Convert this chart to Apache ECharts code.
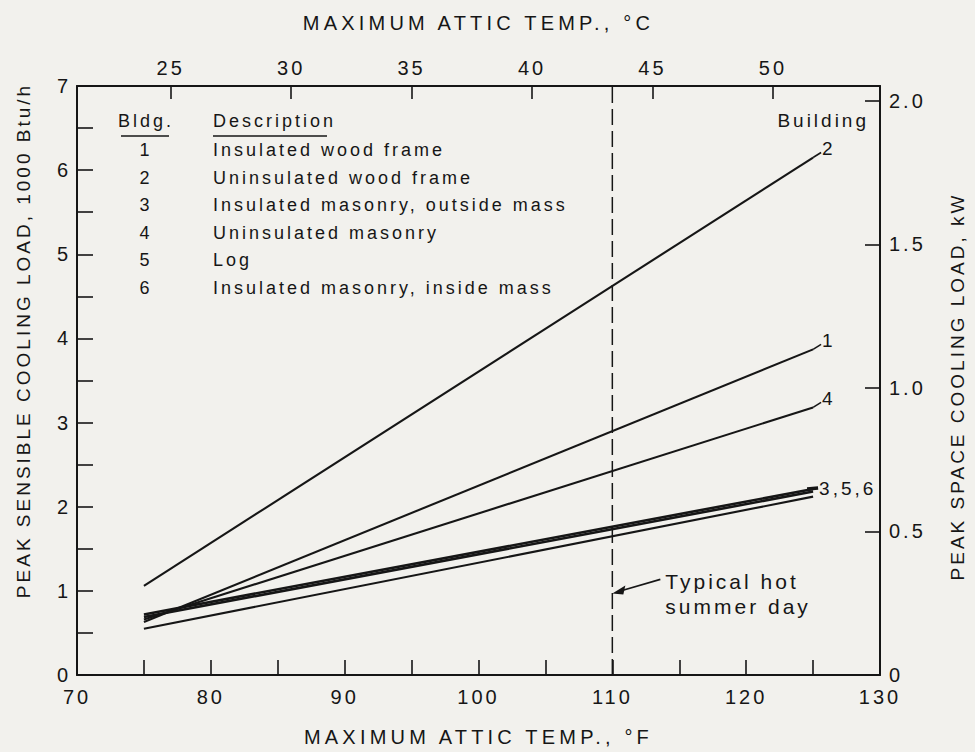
<!DOCTYPE html>
<html><head><meta charset="utf-8">
<script src="https://cdn.jsdelivr.net/npm/echarts@6/dist/echarts.min.js"></script>
<style>
html,body{margin:0;padding:0;background:#f2f1ed;}
#c{width:975px;height:752px;}
#c text{letter-spacing:3px;}
#c text.wide{letter-spacing:4.2px;}
</style>
</head><body><div id="c"></div>
<script>
// ---- data ----
const tempF = [75, 125];                 // start / end of every line, deg F
const bldg1 = [0.63, 3.87];              // 1000 Btu/h
const bldg2 = [1.06, 6.15];
const bldg3 = [0.72, 2.21];
const bldg4 = [0.66, 3.18];
const bldg5 = [0.69, 2.18];
const bldg6 = [0.55, 2.12];
const typicalDayF = 110;
const xLabelsF = [70, 80, 90, 100, 110, 120, 130];
const xTicksC = [25, 30, 35, 40, 45, 50];
const yTicksKW = [0, 0.5, 1.0, 1.5, 2.0];
const legendNums = ['1', '2', '3', '4', '5', '6'];
const legendDesc = ['Insulated wood frame', 'Uninsulated wood frame', 'Insulated masonry, outside mass',
  'Uninsulated masonry', 'Log', 'Insulated masonry, inside mass'];
const endLabelText = ['1', '2', '4', '3,5,6'];
const endLabelSeries = [bldg1, bldg2, bldg4, bldg3];

const chart = echarts.init(document.getElementById('c'), null, { renderer: 'svg' });
const F = 'Liberation Sans';
const ink = '#161616';
const BTU_PER_KW = 3.412;
const fToC = f => (f - 32) * 5 / 9;
const TITLE_F = 'MAXIMUM ATTIC TEMP., °F';
const TITLE_C = 'MAXIMUM ATTIC TEMP., °C';

const buildings = [bldg1, bldg2, bldg3, bldg4, bldg5, bldg6];
const series = buildings.map((ys, i) => ({
  type: 'line', name: 'Bldg ' + (i + 1), symbol: 'none', silent: true,
  data: tempF.map((t, k) => [t, ys[k]]),
  lineStyle: { color: ink, width: (i === 2 || i === 4) ? 2.6 : 2.1 }, z: 3
}));
series.push({
  type: 'line', symbol: 'none', silent: true,
  data: [[typicalDayF, 0], [typicalDayF, 7]],
  lineStyle: { color: ink, width: 1.5, type: [16, 6] }, z: 2
});

const tickLbl = { fontFamily: F, fontSize: 20, color: ink };
const axisLine = { show: true, onZero: false, lineStyle: { color: ink, width: 2 } };
const nameStyle = { fontFamily: F, fontSize: 20, color: ink };

chart.setOption({
  backgroundColor: '#f2f1ed',
  animation: false,
  grid: { left: 77, right: 94, top: 86, bottom: 73 },
  xAxis: [
    { type: 'value', position: 'bottom', min: 70, max: 130, interval: 5,
      axisLine, splitLine: { show: false },
      axisTick: { inside: true, length: 15, lineStyle: { color: ink, width: 1.6 } },
      axisLabel: Object.assign({ margin: 12, formatter: v => (v % 10 === 0 ? String(v) : '') }, tickLbl),
      name: TITLE_F, nameLocation: 'middle', nameGap: 52, nameTextStyle: nameStyle },
    { type: 'value', position: 'top', min: fToC(70), max: fToC(130),
      axisLine, splitLine: { show: false },
      axisTick: { inside: true, length: 13, customValues: xTicksC, lineStyle: { color: ink, width: 1.6 } },
      axisLabel: Object.assign({ margin: 8, customValues: xTicksC }, tickLbl),
      name: TITLE_C, nameLocation: 'middle', nameGap: 53, nameTextStyle: nameStyle }
  ],
  yAxis: [
    { type: 'value', position: 'left', min: 0, max: 7, interval: 0.5,
      axisLine, splitLine: { show: false },
      axisTick: { inside: true, length: 16, lineStyle: { color: ink, width: 1.6 } },
      axisLabel: Object.assign({ margin: 6, formatter: v => (Number.isInteger(v) ? String(v) : '') }, tickLbl),
      name: 'PEAK SENSIBLE COOLING LOAD, 1000 Btu/h', nameLocation: 'middle', nameGap: 44, nameRotate: 90,
      nameTextStyle: { fontFamily: F, fontSize: 19, color: ink, padding: [0, 0, 0, 80] } },
    { type: 'value', position: 'right', min: 0, max: 7 / BTU_PER_KW,
      axisLine, splitLine: { show: false },
      axisTick: { inside: true, length: 15, customValues: yTicksKW, lineStyle: { color: ink, width: 1.6 } },
      axisLabel: Object.assign({ margin: 9, customValues: yTicksKW, formatter: v => (v === 0 ? '0' : v.toFixed(1)) }, tickLbl),
      name: 'PEAK SPACE COOLING LOAD, kW', nameLocation: 'middle', nameGap: 68, nameRotate: 90,
      nameTextStyle: { fontFamily: F, fontSize: 19, color: ink, padding: [0, 12, 0, 0] } }
  ],
  series
});

// ---- annotations (positioned through the chart's own scales) ----
const px = (x, y) => chart.convertToPixel({ xAxisIndex: 0, yAxisIndex: 0 }, [x, y]);
const g = [];
const txt = (x, y, s, align, size) => g.push({ type: 'text', x, y, silent: true,
  style: { text: s, fontFamily: F, fontSize: size || 16, fill: ink, align: align || 'left', verticalAlign: 'middle' } });
const seg = (a, b, w) => g.push({ type: 'line', silent: true,
  shape: { x1: a[0], y1: a[1], x2: b[0], y2: b[1] }, style: { stroke: ink, lineWidth: w || 1.6 } });

// legend table
const LF = 18;
const hdrY = 121, rowY0 = 150, rowStep = 27.5, numX = 146, descX = 213;
txt(numX, hdrY, 'Bldg.', 'center', LF);
txt(descX, hdrY, 'Description', 'left', LF);
seg([121, hdrY + 15], [169, hdrY + 15], 1.4);
seg([descX, hdrY + 15], [327, hdrY + 15], 1.4);
legendNums.forEach((n, i) => {
  txt(numX, rowY0 + i * rowStep, n, 'center', LF);
  txt(descX, rowY0 + i * rowStep, legendDesc[i], 'left', LF);
});

// end labels with leaders
endLabelSeries.forEach((ys, i) => {
  const a = px(tempF[1], ys[1]);
  if (i === 3) {
    const b = [a[0] + 5, a[1] - 1];
    seg([a[0] - 6, a[1]], b, 3.4);
    txt(b[0] + 1, b[1], endLabelText[i], 'left', 19);
  } else {
    const b = [a[0] + 8, a[1] - 5];
    seg(a, b, 1.6);
    txt(b[0] + 1, b[1] - 4, endLabelText[i], 'left', 19);
  }
});
txt(869, 120, 'Building', 'right', 19);

// typical hot summer day arrow
const tip = px(typicalDayF, 0.97);
const tail = [tip[0] + 48, tip[1] - 14];
seg([tip[0] + 8, tip[1] - 2.3], tail, 1.6);
g.push({ type: 'polygon', silent: true, shape: { points: [[tip[0], tip[1]], [tip[0] + 13, tip[1] - 8], [tip[0] + 11, tip[1] + 1]] },
  style: { fill: ink } });
txt(tail[0] + 5, tip[1] - 12, 'Typical hot', 'left', 21);
txt(tail[0] + 5, tip[1] + 13, 'summer day', 'left', 21);

chart.setOption({ graphic: g });

function widenTitles() {
  document.querySelectorAll('#c text').forEach(t => {
    const s = t.textContent;
    if (s === TITLE_F || s === TITLE_C) t.classList.add('wide');
  });
}
chart.on('finished', widenTitles);
chart.getZr().flush();
widenTitles();
</script>
</body></html>
